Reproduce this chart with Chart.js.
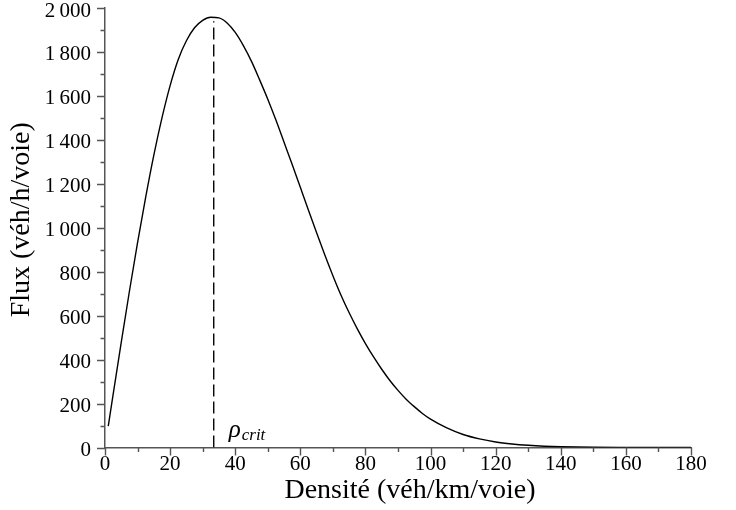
<!DOCTYPE html>
<html>
<head>
<meta charset="utf-8">
<script src="https://cdn.jsdelivr.net/npm/chart.js@4"></script>
<style>
html,body{margin:0;padding:0;background:#fff;}
#wrap{width:736px;height:510px;}
</style>
</head>
<body>
<div id="wrap"><canvas id="c" width="736" height="510"></canvas></div>
<script>
const densite = [1, 2.5, 5, 7.5, 10, 12.5, 15, 17.5, 20, 22.5, 25, 27.5, 30, 32.5, 35, 37.5, 40, 42.5, 45, 47.5, 50, 52.5, 55, 57.5, 60, 62.5, 65, 67.5, 70, 72.5, 75, 77.5, 80, 82.5, 85, 87.5, 90, 92.5, 95, 97.5, 100, 105, 110, 115, 120, 125, 130, 135, 140, 150, 160, 170, 180];
const flux = [97, 242, 480, 711, 932, 1139, 1330, 1500, 1647, 1766, 1851, 1910, 1944, 1958, 1955, 1932, 1889, 1829, 1757, 1673, 1585, 1490, 1389, 1288, 1184, 1080, 977, 877, 782, 693, 613, 540, 473, 412, 356, 305, 260, 220, 186, 155, 129, 89, 59, 39, 25, 16, 10, 6, 3.6, 1.2, 0.4, 0.1, 0.03];
const critX = [33.4, 33.4];
const critY = [0, 1940];
const xTickLabels = ['0', '20', '40', '60', '80', '100', '120', '140', '160', '180'];
const yTickLabels = ['0', '200', '400', '600', '800', '1\u2009000', '1\u2009200', '1\u2009400', '1\u2009600', '1\u2009800', '2\u2009000'];
const critLabel = ['\u03C1', 'crit'];
const xTitle = 'Densité (véh/km/voie)';
const yTitle = 'Flux (véh/h/voie)';

const SERIF = '"Liberation Serif", "Times New Roman", serif';
const AXIS_COLOR = '#555';

const decorPlugin = {
  id: 'decor',
  afterDraw(chart) {
    const ctx = chart.ctx;
    const xs = chart.scales.x, ys = chart.scales.y;
    const ca = chart.chartArea;
    ctx.save();
    ctx.strokeStyle = AXIS_COLOR;
    ctx.lineWidth = 1.4;
    const y0 = ys.getPixelForValue(0);
    const x0 = xs.getPixelForValue(0);
    ctx.beginPath();
    for (let v = xs.min; v <= xs.max + 1e-9; v += 10) {
      const px = Math.round(xs.getPixelForValue(v)) + 0.5;
      const len = (Math.round(v) % 20 === 0) ? 8 : 4.5;
      ctx.moveTo(px, y0);
      ctx.lineTo(px, y0 + len);
    }
    for (let v = ys.min; v <= ys.max + 1e-9; v += 100) {
      const py = Math.round(ys.getPixelForValue(v)) + 0.5;
      const len = (Math.round(v) % 200 === 0) ? 8 : 4.5;
      ctx.moveTo(x0, py);
      ctx.lineTo(x0 - len, py);
    }
    ctx.stroke();

    ctx.fillStyle = '#000';
    // rho_crit label
    const lx = xs.getPixelForValue(critX[0]) + 15;
    const ly = y0 - 11;
    ctx.textBaseline = 'alphabetic';
    ctx.textAlign = 'left';
    ctx.font = 'italic 25px ' + SERIF;
    ctx.fillText(critLabel[0], lx, ly);
    const w = ctx.measureText(critLabel[0]).width;
    ctx.font = 'italic 17px ' + SERIF;
    ctx.fillText(critLabel[1], lx + w + 1, ly + 3);

    // axis titles
    ctx.font = '28px ' + SERIF;
    ctx.textAlign = 'center';
    ctx.fillText(xTitle, (ca.left + ca.right) / 2 + 12, ca.bottom + 50);
    ctx.save();
    ctx.translate(29, (ca.top + ca.bottom) / 2 - 8);
    ctx.rotate(-Math.PI / 2);
    ctx.fillText(yTitle, 0, 0);
    ctx.restore();
    ctx.restore();
  }
};

new Chart(document.getElementById('c'), {
  type: 'line',
  data: {
    datasets: [
      {
        data: densite.map((x, i) => ({x: x, y: flux[i]})),
        borderColor: '#000',
        borderWidth: 1.4,
        pointRadius: 0,
        cubicInterpolationMode: 'monotone',
        fill: false
      },
      {
        data: critX.map((x, i) => ({x: x, y: critY[i]})),
        borderColor: '#000',
        borderWidth: 1.4,
        borderDash: [12, 5],
        pointRadius: 0,
        fill: false
      }
    ]
  },
  options: {
    responsive: false,
    animation: false,
    devicePixelRatio: 1,
    layout: {padding: {top: 8, right: 45, bottom: 0, left: 0}},
    plugins: {legend: {display: false}, tooltip: {enabled: false}},
    scales: {
      x: {
        type: 'linear',
        min: 0, max: 180,
        afterFit(s) { s.height = 62.5; s.paddingLeft = 0; s.paddingRight = 0; },
        ticks: {
          stepSize: 20,
          autoSkip: false,
          maxRotation: 0,
          padding: 4,
          color: '#000',
          font: {family: SERIF, size: 21},
          callback: (v, i) => xTickLabels[i]
        },
        grid: {display: false, drawTicks: false, tickLength: 0},
        border: {display: true, color: AXIS_COLOR, width: 1.5},
        title: {display: false}
      },
      y: {
        type: 'linear',
        min: 0, max: 2000,
        afterFit(s) { s.width = 105; s.paddingTop = 0; s.paddingBottom = 0; },
        ticks: {
          stepSize: 200,
          autoSkip: false,
          padding: 14,
          labelOffset: 3,
          color: '#000',
          font: {family: SERIF, size: 21},
          callback: (v, i) => yTickLabels[i]
        },
        grid: {display: false, drawTicks: false, tickLength: 0},
        border: {display: true, color: AXIS_COLOR, width: 1.5},
        title: {display: false}
      }
    }
  },
  plugins: [decorPlugin]
});
</script>
</body>
</html>
